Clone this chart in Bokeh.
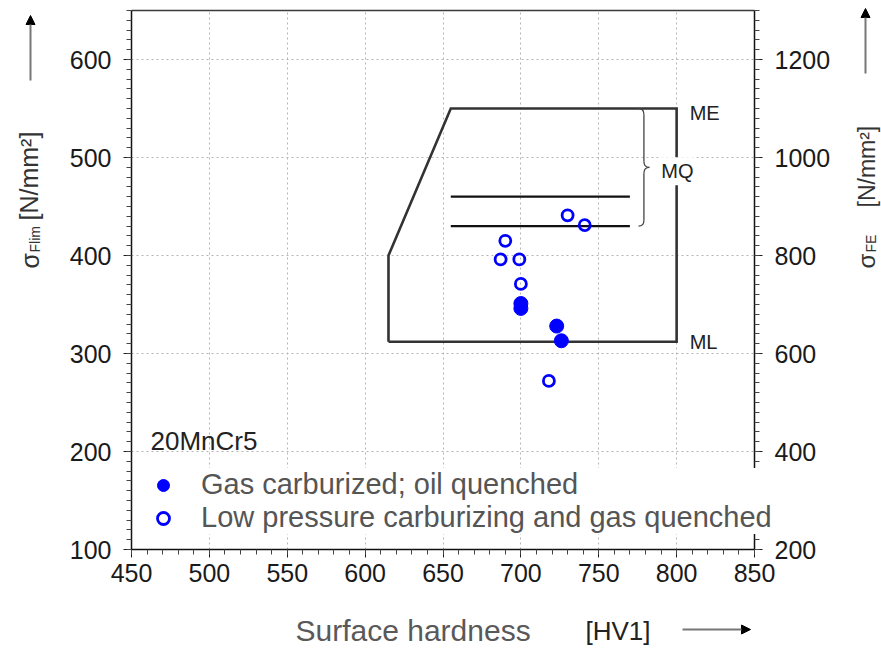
import math

import numpy as np
from bokeh.embed import file_html
from bokeh.models import (Arrow, Grid, Label, Legend, LegendItem, LinearAxis,
                          NormalHead, Range1d, SingleIntervalTicker)
from bokeh.plotting import figure
from bokeh.resources import INLINE

# --- measured fatigue strengths, 20MnCr5 -------------------------------
# surface hardness [HV1] and tooth root endurance limit sigma_Flim [N/mm²]
gas_hv = [700, 700, 723, 726]
gas_sflim = [351, 346, 328, 313]

lpc_hv = [730, 741, 690, 687, 699, 700, 718]
lpc_sflim = [441, 431, 415, 396, 396, 371, 272]

# --- material quality window (ML / MQ / ME) -----------------------------
ml_level = 312
mq_levels = [430, 460]
me_level = 550
window_left_hv = 615
window_knee_level = 400
window_top_hv = 655
window_right_hv = 800
mq_line_hv = [655, 770]

# --- axes ---------------------------------------------------------------
hv_bounds = (450, 850)
flim_bounds = (100, 650)
fe_bounds = (200, 1300)          # sigma_FE = 2 * sigma_Flim
x_tick_step = 50
flim_tick_step = 100
fe_tick_step = 200

FONT = "Liberation Sans"
BLUE = "#0000ff"
W, H = 881, 652

# The frame spans the whole canvas; the plot box sits inside it, so that
# titles, arrows and the legend can be placed freely around the box.
PX_LEFT, PX_RIGHT, PX_TOP, PX_BOTTOM = 131, 754, 10, 549
sx = (PX_RIGHT - PX_LEFT) / (hv_bounds[1] - hv_bounds[0])
sy = (PX_BOTTOM - PX_TOP) / (flim_bounds[1] - flim_bounds[0])
x_lo = hv_bounds[0] - PX_LEFT / sx
x_hi = hv_bounds[1] + (W - PX_RIGHT) / sx
y_lo = flim_bounds[0] - (H - PX_BOTTOM) / sy
y_hi = flim_bounds[1] + PX_TOP / sy
fe_ratio = fe_bounds[0] / flim_bounds[0]

p = figure(width=W, height=H, x_range=Range1d(x_lo, x_hi), y_range=Range1d(y_lo, y_hi),
           x_axis_type=None, y_axis_type=None,
           output_backend="svg", toolbar_location=None, min_border=0)
p.outline_line_color = None
p.background_fill_color = "white"
p.border_fill_color = "white"
p.extra_y_ranges = {"fe": Range1d(y_lo * fe_ratio, y_hi * fe_ratio)}

x_ticker = SingleIntervalTicker(interval=x_tick_step, num_minor_ticks=5)
flim_ticker = SingleIntervalTicker(interval=flim_tick_step, num_minor_ticks=10)
fe_ticker = SingleIntervalTicker(interval=fe_tick_step, num_minor_ticks=10)

x_axis = LinearAxis(fixed_location=flim_bounds[0], bounds=hv_bounds, ticker=x_ticker)
y_axis = LinearAxis(fixed_location=hv_bounds[0], bounds=flim_bounds, ticker=flim_ticker)
fe_axis = LinearAxis(fixed_location=hv_bounds[1], bounds=fe_bounds, ticker=fe_ticker,
                     y_range_name="fe")
top_axis = LinearAxis(fixed_location=flim_bounds[1], bounds=hv_bounds, ticker=x_ticker)

for ax in (x_axis, y_axis, fe_axis, top_axis):
    ax.axis_line_color = "#111111"
    ax.axis_line_width = 1.5
    ax.major_tick_line_color = "#222222"
    ax.minor_tick_line_color = "#444444"
    ax.major_tick_in = 0
    ax.major_tick_out = 8
    ax.minor_tick_in = 0
    ax.minor_tick_out = 5
    ax.major_label_text_font = FONT
    ax.major_label_text_font_size = "25px"
    ax.major_label_text_color = "#1a1a1a"
x_axis.major_label_standoff = 6
y_axis.major_label_standoff = 12
fe_axis.major_label_standoff = 12
top_axis.axis_line_color = "#3a3a3a"
top_axis.major_tick_out = 0
top_axis.minor_tick_out = 0
top_axis.major_label_text_alpha = 0

p.add_layout(x_axis, "below")
p.add_layout(y_axis, "left")
p.add_layout(fe_axis, "right")
p.add_layout(top_axis, "above")

# dotted grid, limited to the plot box
grid_style = dict(grid_line_color="#b4b4b4", grid_line_dash="2 3", grid_line_width=1)
has_cross = "cross_bounds" in Grid.properties()
if has_cross:
    xgrid = Grid(dimension=0, ticker=x_ticker, bounds=hv_bounds, cross_bounds=flim_bounds, **grid_style)
    ygrid = Grid(dimension=1, ticker=flim_ticker, bounds=flim_bounds, cross_bounds=hv_bounds, **grid_style)
    p.add_layout(xgrid)
    p.add_layout(ygrid)
else:
    gx = np.arange(hv_bounds[0] + x_tick_step, hv_bounds[1], x_tick_step)
    gy = np.arange(flim_bounds[0] + flim_tick_step, flim_bounds[1], flim_tick_step)
    p.segment(x0=gx, y0=flim_bounds[0], x1=gx, y1=flim_bounds[1], line_color="#b4b4b4",
              line_dash="2 3", line_width=1, level="underlay")
    p.segment(x0=hv_bounds[0], y0=gy, x1=hv_bounds[1], y1=gy, line_color="#b4b4b4",
              line_dash="2 3", line_width=1, level="underlay")

# quality window outline
window_x = [window_left_hv, window_right_hv, window_right_hv, window_top_hv,
            window_left_hv, window_left_hv]
window_y = [ml_level, ml_level, me_level, me_level, window_knee_level, ml_level]
p.line(window_x, window_y, line_color="#333333", line_width=2.6, line_join="miter")

# MQ band
p.segment(x0=[mq_line_hv[0]] * 2, y0=mq_levels, x1=[mq_line_hv[1]] * 2, y1=mq_levels,
          line_color="#111111", line_width=2.2)

# curly brace spanning ME down to the lower MQ line
b_tip_l, b_body, b_tip_r = 775.5, 779.0, 782.5
b_top, b_bot = me_level, mq_levels[0]
b_mid = (b_top + b_bot) / 2
hook = 6
p.quadratic(x0=[b_tip_l, b_body, b_tip_r, b_body],
            y0=[b_top, b_mid + hook, b_mid, b_bot + hook],
            x1=[b_body, b_tip_r, b_body, b_tip_l],
            y1=[b_top - hook, b_mid, b_mid - hook, b_bot],
            cx=[b_body, b_body, b_body, b_body],
            cy=[b_top, b_mid, b_mid, b_bot],
            line_color="#444444", line_width=1.3)
p.segment(x0=[b_body, b_body], y0=[b_top - hook, b_mid - hook],
          x1=[b_body, b_body], y1=[b_mid + hook, b_bot + hook],
          line_color="#444444", line_width=1.3)

# measurements
r_gas = p.scatter(gas_hv, gas_sflim, marker="circle", size=14,
                  fill_color=BLUE, line_color=BLUE, line_width=1)
r_lpc = p.scatter(lpc_hv, lpc_sflim, marker="circle", size=11,
                  fill_color=None, line_color=BLUE, line_width=2.8)

# grade labels
for txt, xv, yv, xo, yo, bg in (("ME", window_right_hv, me_level, 10, -4, None),
                                ("MQ", b_tip_r, b_mid, 9, -4, "white"),
                                ("ML", window_right_hv, ml_level, 10, 0, None)):
    p.add_layout(Label(x=xv, y=yv, x_offset=xo, y_offset=yo, text=txt,
                       text_font=FONT, text_font_size="20px", text_color="#222222",
                       text_baseline="middle", text_align="left",
                       background_fill_color=bg, padding=3))

legend = Legend(
    items=[LegendItem(label="Gas carburized; oil quenched", renderers=[r_gas]),
           LegendItem(label="Low pressure carburizing and gas quenched", renderers=[r_lpc])],
    location=(148, 118),
    label_text_font=FONT, label_text_font_size="29px", label_text_color="#555555",
    glyph_width=30, glyph_height=30, label_standoff=23, label_width=610,
    spacing=0, padding=8, margin=0,
    border_line_color=None, background_fill_color="white", background_fill_alpha=1.0,
)
p.add_layout(legend)

p.add_layout(Label(x=150, y=H - 440, x_units="screen", y_units="screen", text="20MnCr5",
                   text_font=FONT, text_font_size="26px", text_color="#222222",
                   text_baseline="middle"))


def title_piece(txt, cx, cy, size, angle=0.0, color="#333333"):
    """Text placed in canvas pixels (cx from left, cy from top)."""
    p.add_layout(Label(x=cx, y=H - cy, x_units="screen", y_units="screen", text=txt,
                       angle=angle, text_font=FONT, text_font_size=size,
                       text_color=color, text_baseline="middle", text_align="left"))


up = math.pi / 2
title_piece("σ", 29, 268, "25px", up)
title_piece("Flim", 34, 252, "14px", up)
title_piece("[N/mm²]", 28, 220, "25px", up)

title_piece("σ", 866, 268, "24px", up)
title_piece("FE", 870, 252, "14px", up)
title_piece("[N/mm²]", 866, 207, "23px", up)

title_piece("Surface hardness", 295, 630, "30px", color="#595959")
title_piece("[HV1]", 585, 630, "26px", color="#222222")

head = dict(size=9, fill_color="black", line_color="black")
for xs, ys, xe, ye in ((30, 80, 30, 15), (865, 73, 865, 8), (682, 629, 750, 629)):
    p.add_layout(Arrow(x_start=xs, y_start=H - ys, x_end=xe, y_end=H - ye,
                       start_units="screen", end_units="screen",
                       line_color="#777777", line_width=2,
                       end=NormalHead(**head)))

open("out.html", "w").write(file_html(p, INLINE))
